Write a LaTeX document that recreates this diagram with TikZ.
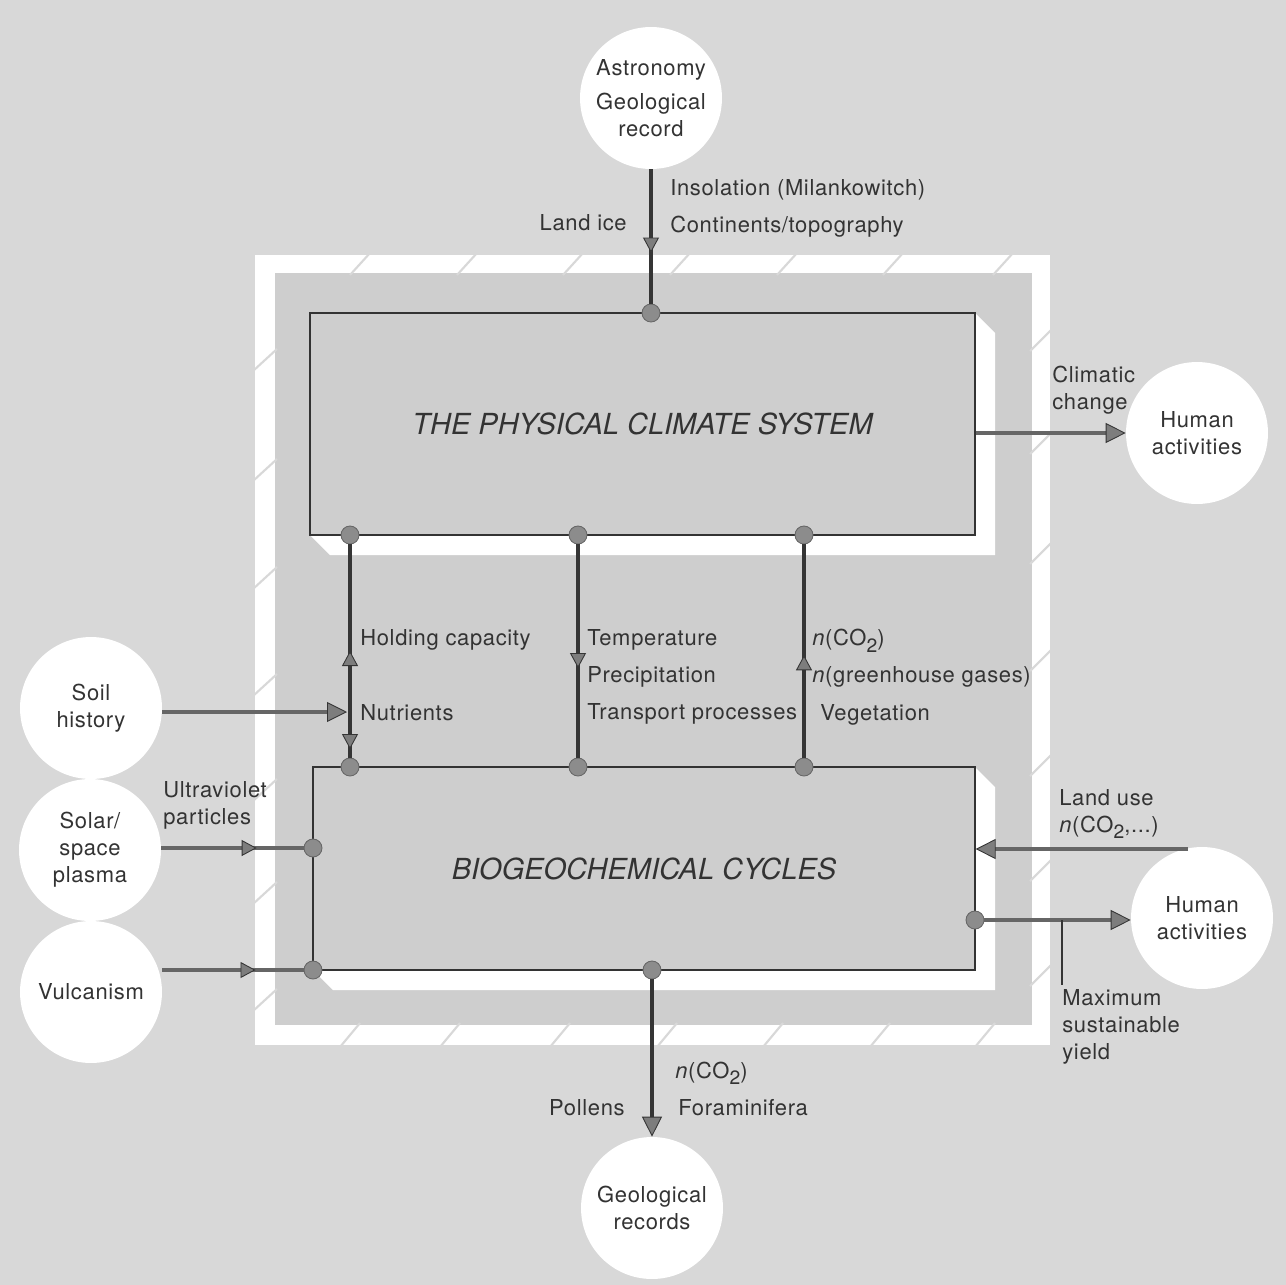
\documentclass[tikz,border=0pt]{standalone}
\usepackage{fontspec}
\setmainfont{TeX Gyre Heros}[LetterSpace=3]
\newfontfamily\titlefont{TeX Gyre Heros}
\usetikzlibrary{arrows.meta,decorations.markings}
\definecolor{bggrey}{HTML}{D8D8D8}
\definecolor{ingrey}{HTML}{CECECE}
\definecolor{dotgrey}{HTML}{8C8C8C}
\definecolor{tipgrey}{HTML}{7D7D7D}
\definecolor{linedark}{HTML}{353535}
\definecolor{linegrey}{HTML}{666666}
\definecolor{ink}{HTML}{333333}
\newcommand{\cotwo}{CO\raisebox{-0.55ex}{\fontsize{11}{11}\selectfont 2}}
\newcommand{\nconc}{\textit{n}}
\begin{document}
\begin{tikzpicture}[x=0.02cm,y=-0.02cm,
 disc/.style={circle,fill=white,minimum size=2.84cm,inner sep=0pt,align=center,text=ink,font=\fontsize{12.5}{15.3}\selectfont},
 sysbox/.style={draw=ink,line width=0.8pt,fill=ingrey,inner sep=0pt,text=ink,font=\titlefont\itshape\fontsize{16.5}{20}\selectfont},
 joint/.style={circle,fill=dotgrey,draw=linegrey,line width=0.5pt,minimum size=0.36cm,inner sep=0pt},
 lbl/.style={inner sep=0pt,align=left,text=ink,font=\fontsize{12.5}{21}\selectfont},
 tight/.style={lbl,font=\fontsize{12.5}{15.3}\selectfont},
 flow/.style={draw=linedark,line width=2pt},
 feed/.style={draw=linegrey,line width=2.1pt},
 hatch/.style={draw=bggrey,line width=1.2pt},
 midhead/.tip={Triangle[length=0.3cm,width=0.32cm,fill=tipgrey,color=linedark,line width=0.5pt]},
 endhead/.tip={Triangle[length=0.4cm,width=0.4cm,fill=tipgrey,color=linedark,line width=0.5pt]},
 endtip/.style={-endhead},
 midtip/.style={postaction={decorate},decoration={markings,mark=at position #1 with {\arrow{midhead}}}}]
\fill[bggrey] (0,0) rectangle (1286,1285);
\useasboundingbox (0,0) rectangle (1286,1285);
%
\fill[white] (255,255) rectangle (1050,1045);
\fill[ingrey] (275,273) rectangle (1032,1025);
\foreach \x in {360,467,573,680,787,893,1003} \draw[hatch] (\x-10,275)--(\x+10,253);
\foreach \y in {360,470,578,685,790,893,1000} \draw[hatch] (253,\y+11)--(277,\y-11);
\foreach \y in {340,443,553,660,765,870,975} \draw[hatch] (1030,\y+11)--(1052,\y-11);
\foreach \x in {350,450,560,667,773,880,985} \draw[hatch] (\x-10,1047)--(\x+10,1023);
%
\fill[white] (975,313)--(995,333)--(995,555)--(330,555)--(310,535)--cycle;
\fill[white] (975,767)--(995,787)--(995,990)--(333,990)--(313,970)--cycle;
\node[sysbox,minimum width=13.3cm,minimum height=4.44cm] (phys) at (642.5,424) {THE PHYSICAL CLIMATE SYSTEM};
\node[sysbox,minimum width=13.24cm,minimum height=4.06cm] (bio) at (644,868.5) {BIOGEOCHEMICAL CYCLES};
%
\node[disc] (astro) at (651,98) {Astronomy\\[4.5pt]Geological\\record};
\node[disc] (hum1) at (1197,433) {Human\\activities};
\node[disc] (soil) at (91,708) {Soil\\history};
\node[disc] (solar) at (90,850) {Solar/\\space\\plasma};
\node[disc] (vulc) at (91,992) {Vulcanism};
\node[disc] (hum2) at (1202,918) {Human\\activities};
\node[disc] (geo) at (652,1208) {Geological\\records};
%
\node[joint] (jtop) at (651,313) {};
\node[joint] (ja1) at (350,535) {};
\node[joint] (ja2) at (578,535) {};
\node[joint] (ja3) at (804,535) {};
\node[joint] (jb1) at (350,767) {};
\node[joint] (jb2) at (578,767) {};
\node[joint] (jb3) at (804,767) {};
\node[joint] (jl1) at (313,848) {};
\node[joint] (jl2) at (313,970) {};
\node[joint] (jbot) at (652,970) {};
\node[joint] (jr) at (975,920) {};
\coordinate (nutin) at (350,712);
\coordinate (lusrc) at (1188,849);
\coordinate (yldtop) at (1062,920);
\coordinate (yldend) at (1062,985);
%
\draw[flow,midtip=0.62] (astro)--(jtop);
\draw[feed,endtip] (phys.east |- hum1)--(hum1);
\draw[flow,postaction={decorate},decoration={markings,
  mark=at position 0.5 with {\arrowreversed{midhead}},
  mark=at position 0.96 with {\arrow{midhead}}}] (ja1)--(jb1);
\draw[flow,midtip=0.58] (ja2)--(jb2);
\draw[flow,midtip=0.48] (jb3)--(ja3);
\draw[feed,endtip,shorten >=0.06cm] (soil.east |- nutin)--(nutin);
\draw[feed,midtip=0.67] (solar.east |- jl1)--(jl1);
\draw[feed,midtip=0.66] (vulc.east |- jl2)--(jl2);
\draw[feed,endtip] (lusrc)--(bio.east |- lusrc);
\draw[feed,endtip] (jr)--(hum2.west |- jr);
\draw[draw=linedark,line width=0.9pt] (yldtop)--(yldend);
\draw[flow,endtip] (jbot)--(geo);
%
\node[lbl,anchor=north west] (insol) at (670,179) {Insolation (Milankowitch)\\Continents/topography};
\node[lbl,anchor=base east] (landice) at (627,230) {Land ice};
\node[tight,anchor=north west] (clim) at (1052,366) {Climatic\\change};
\node[lbl,anchor=base west] (holdcap) at (360,645) {Holding capacity};
\node[lbl,anchor=base west] (nutr) at (360,720) {Nutrients};
\node[lbl,anchor=north west] (temp) at (587,629) {Temperature\\Precipitation\\Transport processes};
\node[lbl,anchor=north west] (gases) at (812,629) {\nconc(\cotwo)\\\nconc(greenhouse gases)};
\node[lbl,anchor=base west] (veg) at (820,720) {Vegetation};
\node[tight,anchor=north west] (uv) at (163,781) {Ultraviolet\\particles};
\node[tight,anchor=north west] (landuse) at (1059,789) {Land use\\\nconc(\cotwo,...)};
\node[tight,anchor=north west] (msy) at (1062,989) {Maximum\\sustainable\\yield};
\node[lbl,anchor=base west] (co2b) at (675,1078) {\nconc(\cotwo)};
\node[lbl,anchor=base east] (pollen) at (625,1115) {Pollens};
\node[lbl,anchor=base west] (foram) at (678,1115) {Foraminifera};
\end{tikzpicture}
\end{document}
